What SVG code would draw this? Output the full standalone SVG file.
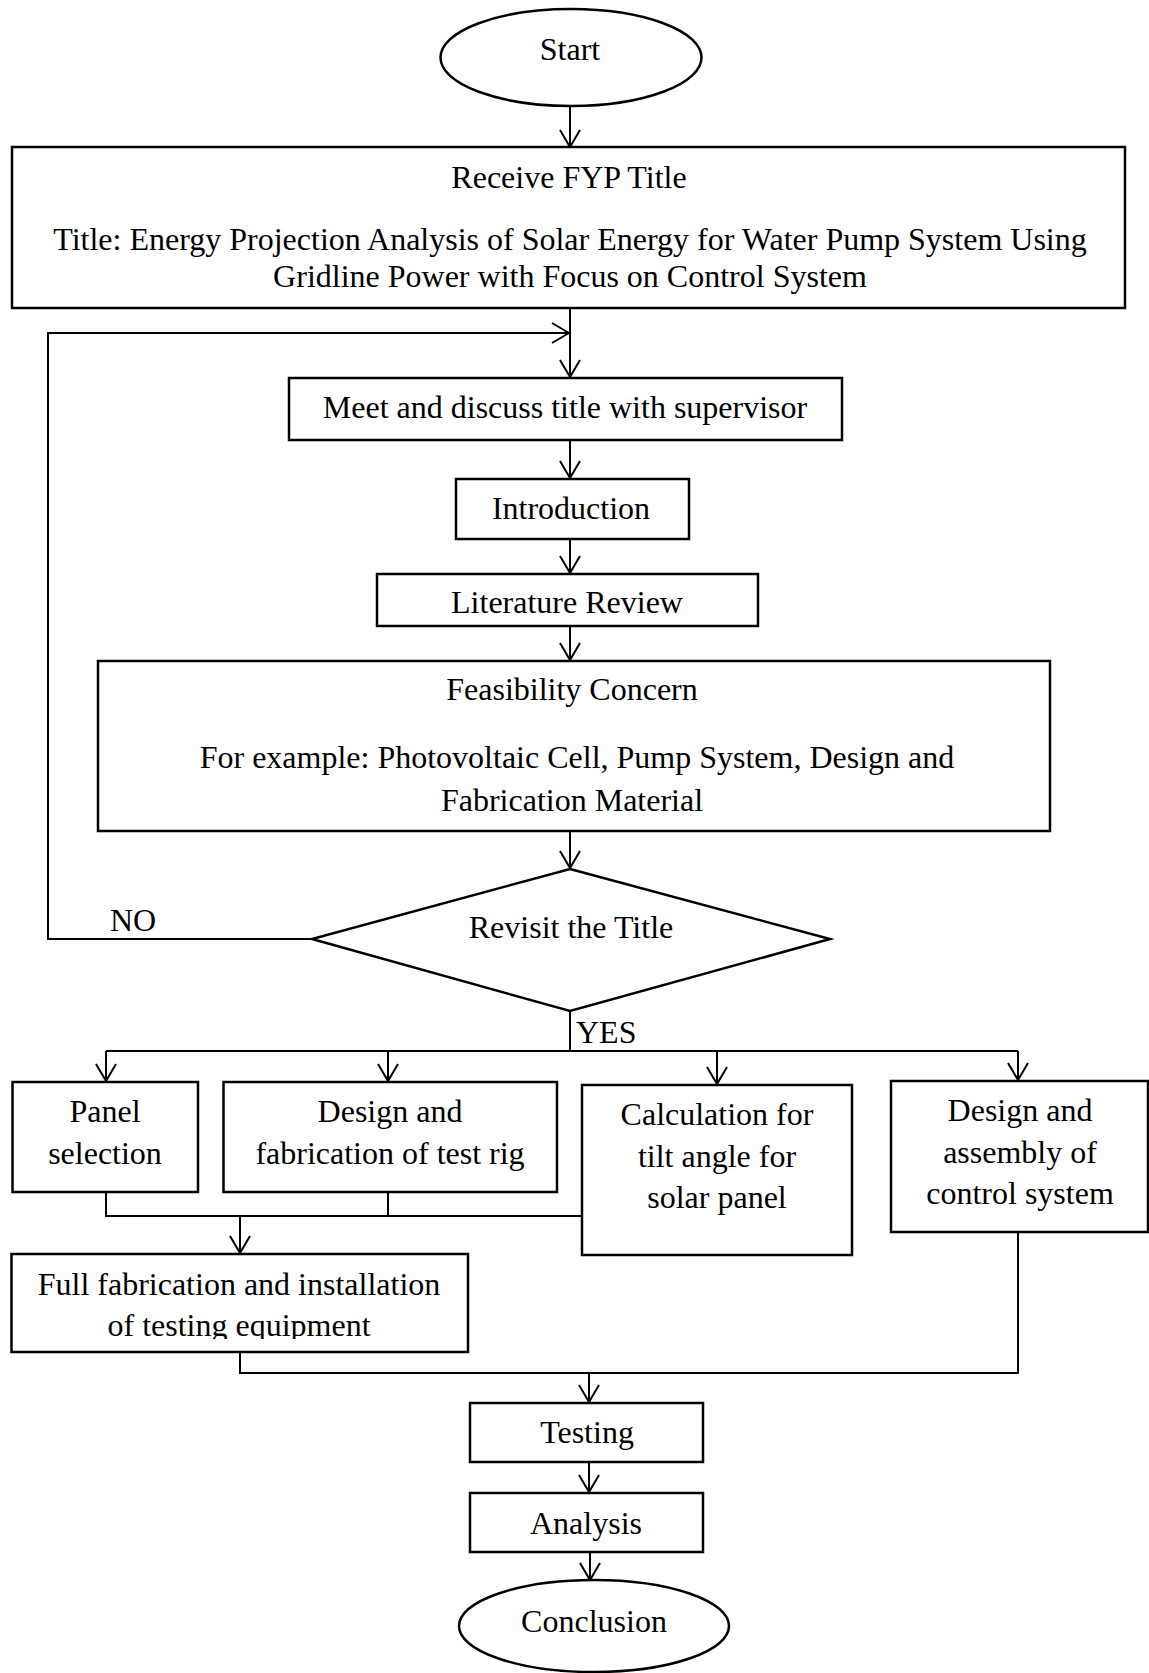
<svg xmlns="http://www.w3.org/2000/svg" width="1149" height="1673" viewBox="0 0 1149 1673">
<style>
.box{fill:#fff;stroke:#000;stroke-width:2.5}
.ln{fill:none;stroke:#000;stroke-width:2}
.t{font-family:"Liberation Serif","Times New Roman",serif;font-size:32px;fill:#000;text-anchor:middle}
.tl{font-family:"Liberation Serif","Times New Roman",serif;font-size:32px;fill:#000;text-anchor:start}
</style>
<defs>
<marker id="arr" markerUnits="userSpaceOnUse" orient="auto" markerWidth="40" markerHeight="40" refX="0" refY="0" viewBox="-20 -20 40 40" overflow="visible">
<path d="M-17,-10 L0,0 L-17,10" fill="none" stroke="#000" stroke-width="2" stroke-linejoin="round"/>
</marker>
<clipPath id="clipFull"><rect x="12" y="1255" width="456" height="84"/></clipPath>
</defs>
<rect x="0" y="0" width="1149" height="1673" fill="#fff"/>

<g id="connectors">
<line class="ln" x1="570" y1="106" x2="570" y2="147" marker-end="url(#arr)"/>
<line class="ln" x1="570" y1="308" x2="570" y2="377" marker-end="url(#arr)"/>
<polyline class="ln" points="312,939 48,939 48,333 569,333" marker-end="url(#arr)"/>
<line class="ln" x1="570" y1="440" x2="570" y2="478" marker-end="url(#arr)"/>
<line class="ln" x1="570" y1="539" x2="570" y2="573" marker-end="url(#arr)"/>
<line class="ln" x1="570" y1="626" x2="570" y2="660" marker-end="url(#arr)"/>
<line class="ln" x1="570" y1="831" x2="570" y2="868" marker-end="url(#arr)"/>
<line class="ln" x1="570" y1="1011" x2="570" y2="1051"/>
<line class="ln" x1="106" y1="1051" x2="1018" y2="1051"/>
<line class="ln" x1="106" y1="1051" x2="106" y2="1081" marker-end="url(#arr)"/>
<line class="ln" x1="388" y1="1051" x2="388" y2="1081" marker-end="url(#arr)"/>
<line class="ln" x1="717" y1="1051" x2="717" y2="1084" marker-end="url(#arr)"/>
<line class="ln" x1="1018" y1="1051" x2="1018" y2="1080" marker-end="url(#arr)"/>
<polyline class="ln" points="106,1192 106,1216 582,1216"/>
<line class="ln" x1="388" y1="1192" x2="388" y2="1216"/>
<line class="ln" x1="240" y1="1216" x2="240" y2="1253" marker-end="url(#arr)"/>
<polyline class="ln" points="240,1352 240,1373 1018,1373 1018,1232"/>
<line class="ln" x1="589" y1="1373" x2="589" y2="1402" marker-end="url(#arr)"/>
<line class="ln" x1="589" y1="1462" x2="589" y2="1492" marker-end="url(#arr)"/>
<line class="ln" x1="590" y1="1552" x2="590" y2="1580" marker-end="url(#arr)"/>
</g>

<g id="start">
<ellipse class="box" cx="571" cy="57.5" rx="130.5" ry="48.5"/>
<text class="t" x="570" y="60">Start</text>
</g>

<g id="receive-title">
<rect class="box" x="12" y="147" width="1113" height="161"/>
<text class="t" x="569" y="188">Receive FYP Title</text>
<text class="t" x="570" y="250">Title: Energy Projection Analysis of Solar Energy for Water Pump System Using</text>
<text class="t" x="570" y="287">Gridline Power with Focus on Control System</text>
</g>

<g id="meet">
<rect class="box" x="289" y="378" width="553" height="62"/>
<text class="t" x="565" y="418">Meet and discuss title with supervisor</text>
</g>

<g id="introduction">
<rect class="box" x="456" y="479" width="233" height="60"/>
<text class="t" x="571" y="519">Introduction</text>
</g>

<g id="literature">
<rect class="box" x="377" y="574" width="381" height="52"/>
<text class="t" x="567" y="613">Literature Review</text>
</g>

<g id="feasibility">
<rect class="box" x="98" y="661" width="952" height="170"/>
<text class="t" x="572" y="700">Feasibility Concern</text>
<text class="t" x="577" y="768">For example: Photovoltaic Cell, Pump System, Design and</text>
<text class="t" x="572" y="811">Fabrication Material</text>
</g>

<g id="revisit">
<polygon class="box" points="570,869 830,939 570,1011 312,939"/>
<text class="t" x="571" y="938">Revisit the Title</text>
<text class="tl" x="110" y="931">NO</text>
<text class="tl" x="576" y="1043">YES</text>
</g>

<g id="panel">
<rect class="box" x="12.5" y="1082" width="185.5" height="110"/>
<text class="t" x="105" y="1122">Panel</text>
<text class="t" x="105" y="1164">selection</text>
</g>

<g id="design-rig">
<rect class="box" x="223.5" y="1082" width="333.5" height="110"/>
<text class="t" x="390" y="1122">Design and</text>
<text class="t" x="390" y="1164">fabrication of test rig</text>
</g>

<g id="calculation">
<rect class="box" x="582" y="1085" width="270" height="170"/>
<text class="t" x="717" y="1125">Calculation for</text>
<text class="t" x="717" y="1167">tilt angle for</text>
<text class="t" x="717" y="1208">solar panel</text>
</g>

<g id="control">
<rect class="box" x="891" y="1081" width="257" height="151"/>
<text class="t" x="1020" y="1121">Design and</text>
<text class="t" x="1020" y="1163">assembly of</text>
<text class="t" x="1020" y="1204">control system</text>
</g>

<g id="full-fabrication">
<rect class="box" x="11.5" y="1254" width="456.5" height="98"/>
<text class="t" x="239" y="1295">Full fabrication and installation</text>
<text class="t" x="239" y="1336" clip-path="url(#clipFull)">of testing equipment</text>
</g>

<g id="testing">
<rect class="box" x="470" y="1403" width="233" height="59"/>
<text class="t" x="587" y="1443">Testing</text>
</g>

<g id="analysis">
<rect class="box" x="470" y="1493" width="233" height="59"/>
<text class="t" x="586" y="1534">Analysis</text>
</g>

<g id="conclusion">
<ellipse class="box" cx="594" cy="1626" rx="135" ry="46"/>
<text class="t" x="594" y="1632">Conclusion</text>
</g>
</svg>
